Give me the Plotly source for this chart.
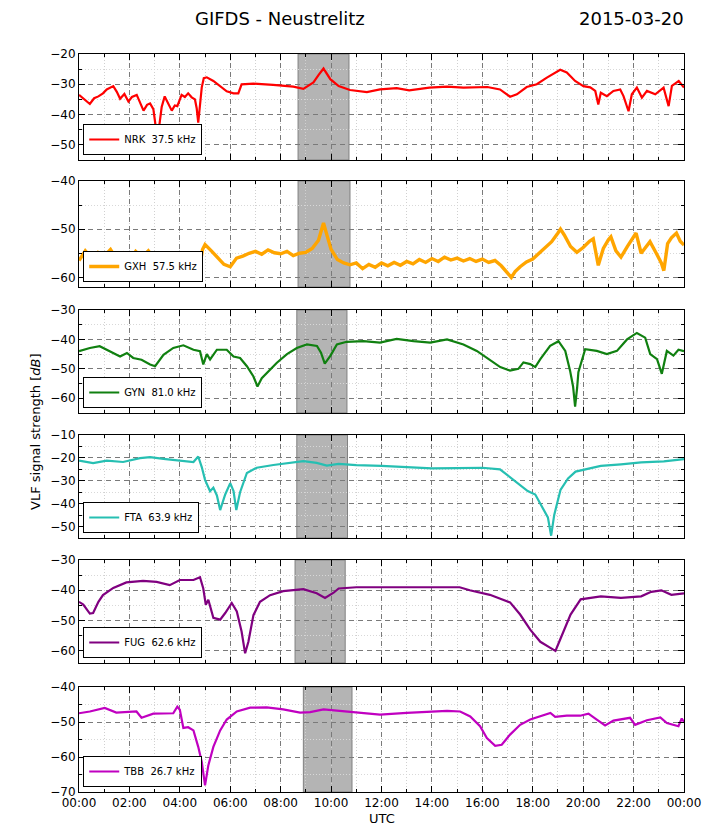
import plotly.graph_objects as go

# ---------------- data (hours UTC, dB) ----------------
nrk_t = [0, 0.2, 0.43, 0.6, 0.77, 0.95, 1.1, 1.36, 1.5, 1.63, 1.8, 1.96, 2.1, 2.29, 2.45, 2.56, 2.7, 2.82, 2.95,
         3.03, 3.1, 3.18, 3.28, 3.4, 3.55, 3.68, 3.8, 3.9, 4.07, 4.2, 4.33, 4.47, 4.6, 4.67, 4.73, 4.8, 4.87, 4.95,
         5.07, 5.33, 5.6, 5.86, 6.13, 6.32, 6.45, 6.92, 7.7, 8.5, 8.9, 9.3, 9.5, 9.7, 9.97, 10.3, 10.75, 11.42,
         11.94, 12.6, 13.1, 13.9, 14.6, 15.25, 16.2, 16.7, 17.1, 17.37, 17.76, 18.16, 18.56, 19.09, 19.35, 19.68,
         20.01, 20.28, 20.48, 20.6, 20.7, 20.94, 21.2, 21.47, 21.6, 21.8, 21.93, 22.13, 22.33, 22.53, 22.86, 23.19,
         23.39, 23.52, 23.79, 24]
nrk_v = [-33.5, -35.0, -36.5, -34.6, -34.0, -33.0, -31.7, -30.6, -32.5, -34.8, -33.2, -35.7, -34.2, -33.5, -36.4,
         -38.7, -36.8, -36.3, -38.2, -44.0, -47.5, -44.0, -37.5, -34.0, -36.5, -38.7, -37.0, -37.2, -33.5, -34.2,
         -33.0, -34.3, -35.0, -38.0, -42.7, -37.0, -31.0, -28.0, -27.7, -28.9, -30.6, -32.3, -33.0, -33.0, -30.0,
         -29.8, -30.2, -30.8, -31.5, -29.4, -27.0, -24.8, -28.3, -30.6, -31.9, -32.6, -31.7, -31.3, -32.0, -31.1,
         -30.8, -31.1, -30.9, -31.7, -34.1, -33.3, -30.9, -30.0, -27.8, -25.2, -26.1, -28.9, -30.6, -31.0, -32.2,
         -36.7, -32.8, -33.9, -32.2, -31.7, -33.9, -38.9, -33.3, -31.1, -34.4, -32.2, -33.3, -31.1, -37.2, -30.5,
         -28.9, -31.1]

gxh_t = [0.0, 0.25, 0.5, 0.75, 1.0, 1.25, 1.5, 1.75, 2.0, 2.25, 2.5, 2.75, 3.0, 3.25, 3.5, 3.75, 4.0, 4.25, 4.5,
         4.75, 4.9, 5.0, 5.25, 5.5, 5.75, 6.0, 6.25, 6.5, 6.75, 7.0, 7.25, 7.5, 7.75, 8.0, 8.25, 8.5, 8.75, 9.0,
         9.25, 9.5, 9.7, 9.85, 10.0, 10.25, 10.5, 10.75, 11.0, 11.25, 11.5, 11.75, 12.0, 12.25, 12.5, 12.75, 13.0,
         13.25, 13.5, 13.75, 14.0, 14.25, 14.5, 14.75, 15.0, 15.25, 15.5, 15.75, 16.0, 16.25, 16.5, 16.75, 17.0,
         17.15, 17.3, 17.5, 17.75, 18.0, 18.25, 18.5, 18.75, 19.0, 19.1, 19.25, 19.5, 19.75, 20.0, 20.25, 20.4,
         20.6, 20.8, 21.0, 21.1, 21.3, 21.5, 21.75, 22.0, 22.1, 22.3, 22.5, 22.65, 22.9, 23.1, 23.2, 23.35, 23.5,
         23.7, 23.85, 24.0]
gxh_v = [-56.5, -54.5, -56.0, -54.8, -55.6, -54.2, -56.3, -55.0, -56.8, -54.6, -55.8, -54.5, -56.2, -55.1, -56.8,
         -55.6, -57.0, -56.0, -57.4, -59.0, -54.2, -53.2, -54.5, -56.0, -57.3, -57.8, -56.0, -55.6, -55.0, -54.6,
         -55.2, -54.3, -54.9, -55.1, -54.6, -55.5, -55.0, -54.8, -54.0, -52.3, -48.7, -51.5, -54.2, -56.3, -57.0,
         -57.4, -57.0, -58.2, -57.3, -57.9, -57.0, -57.6, -56.9, -57.5, -56.7, -57.2, -56.3, -56.9, -56.1, -56.7,
         -55.8, -56.4, -56.0, -56.6, -56.1, -56.7, -56.2, -56.9, -56.5, -57.6, -59.0, -60.0, -58.8, -57.8, -56.8,
         -56.2, -55.0, -53.9, -52.6, -50.8, -50.0, -51.2, -53.6, -54.8, -53.8, -52.5, -52.0, -57.5, -54.0, -52.2,
         -51.6, -54.5, -55.8, -53.6, -51.5, -50.8, -55.0, -53.5, -52.6, -55.0, -57.0, -58.6, -53.0, -51.8, -50.8,
         -52.5, -53.3]

gyn_t = [0, 0.43, 0.82, 1.2, 1.63, 1.9, 2.15, 2.48, 2.82, 3.02, 3.35, 3.74, 4.14, 4.54, 4.8, 4.93, 5.07, 5.2,
         5.47, 5.86, 6.13, 6.39, 6.66, 6.92, 7.08, 7.25, 7.58, 7.85, 8.25, 8.64, 9.04, 9.44, 9.6, 9.75, 9.97,
         10.23, 10.62, 11.28, 11.94, 12.6, 13.27, 13.93, 14.6, 15.25, 15.78, 16.31, 16.71, 17.1, 17.43, 17.63,
         17.9, 18.1, 18.3, 18.69, 19.02, 19.29, 19.48, 19.6, 19.68, 19.76, 19.81, 20.08, 20.54, 20.94, 21.34,
         21.74, 22.13, 22.46, 22.66, 22.93, 23.12, 23.32, 23.58, 23.78, 24]
gyn_v = [-44.0, -42.9, -42.3, -44.0, -45.8, -44.6, -46.3, -46.9, -48.5, -49.1, -45.2, -42.9, -42.0, -43.5, -44.0,
         -48.5, -45.0, -46.8, -43.5, -43.5, -45.8, -46.3, -49.1, -52.6, -56.0, -53.2, -50.2, -47.9, -45.0, -42.9,
         -41.7, -42.2, -44.5, -48.2, -45.6, -41.7, -40.8, -40.6, -41.1, -39.8, -40.6, -41.1, -40.0, -41.7, -43.9,
         -47.2, -49.4, -50.6, -50.0, -47.8, -48.4, -49.4, -46.7, -42.2, -40.6, -43.9, -50.6, -56.0, -62.8, -56.5,
         -51.1, -43.3, -43.9, -45.0, -43.9, -40.0, -37.8, -39.4, -45.0, -46.7, -51.7, -43.9, -45.5, -43.5, -44.0]

fta_t = [0, 0.56, 1.1, 1.75, 2.42, 2.82, 3.35, 4.0, 4.54, 4.73, 4.87, 5.0, 5.2, 5.33, 5.47, 5.6, 5.8, 6.0,
         6.13, 6.24, 6.39, 6.66, 7.05, 7.71, 8.37, 8.9, 9.43, 9.83, 10.3, 11.0, 12.0, 13.0, 14.0, 15.0, 16.0,
         16.7, 17.0, 17.5, 17.8, 18.1, 18.3, 18.5, 18.6, 18.73, 18.85, 19.1, 19.4, 19.7, 20.2, 20.7, 21.5, 22.3,
         23.2, 24.0]
fta_v = [-21.2, -22.3, -21.2, -21.8, -20.1, -19.7, -20.4, -21.2, -21.8, -19.4, -24.0, -29.6, -34.6, -33.0, -36.4,
         -42.8, -36.0, -31.0, -34.5, -42.8, -35.0, -26.6, -24.3, -23.1, -22.1, -21.4, -22.2, -23.4, -22.6, -23.2,
         -23.5, -24.2, -24.6, -24.5, -24.3, -25.0, -27.5, -32.0, -34.5, -36.0, -40.0, -44.0, -46.0, -54.0, -45.0,
         -34.0, -29.0, -26.0, -24.6, -23.5, -22.8, -22.0, -21.5, -20.5]

fug_t = [0, 0.17, 0.43, 0.56, 0.77, 0.95, 1.36, 1.88, 2.54, 3.08, 3.6, 4.0, 4.54, 4.8, 4.93, 5.03, 5.13, 5.33,
         5.6, 5.8, 6.06, 6.26, 6.45, 6.59, 6.72, 6.92, 7.18, 7.58, 8.1, 8.9, 9.43, 9.76, 10.1, 10.3, 11.0, 12.0,
         13.0, 14.0, 15.1, 15.5, 16.3, 17.1, 17.5, 17.9, 18.3, 18.7, 18.9, 19.1, 19.5, 19.9, 20.7, 21.5, 22.3,
         22.7, 23.1, 23.5, 24.0]
fug_v = [-43.8, -44.7, -47.7, -47.5, -43.8, -41.6, -39.2, -37.4, -36.9, -37.2, -38.3, -36.6, -36.6, -35.7, -39.4,
         -44.8, -43.1, -49.1, -49.7, -47.5, -44.2, -47.0, -53.6, -60.8, -57.0, -48.2, -43.8, -41.6, -40.3, -39.6,
         -41.0, -42.5, -40.8, -39.4, -39.0, -39.0, -38.8, -39.0, -39.0, -40.0, -41.5, -44.0, -48.0, -53.0, -57.0,
         -59.0, -60.0, -56.0, -48.0, -43.0, -42.0, -42.5, -42.0, -40.5, -40.0, -41.5, -41.0]

tbb_t = [0, 0.43, 1.02, 1.48, 2.28, 2.48, 2.95, 3.48, 3.74, 3.9, 4.0, 4.14, 4.33, 4.54, 4.73, 4.87, 5.0, 5.13,
         5.33, 5.6, 5.86, 6.26, 6.79, 7.45, 8.1, 8.77, 9.17, 9.7, 10.25, 11.94, 13.0, 14.06, 14.6, 15.12, 15.52,
         15.91, 16.18, 16.51, 16.77, 17.1, 17.5, 17.9, 18.3, 18.7, 18.89, 19.35, 19.88, 20.21, 20.54, 20.87,
         21.2, 21.53, 21.86, 22.06, 22.53, 23.06, 23.32, 23.78, 23.91, 24.0]
tbb_v = [-47.5, -47.0, -46.0, -47.3, -47.0, -48.8, -47.6, -47.5, -47.5, -45.6, -46.5, -51.7, -51.5, -52.4, -57.1,
         -61.4, -68.1, -62.4, -57.1, -52.4, -49.3, -47.0, -45.9, -45.8, -46.4, -47.3, -47.2, -46.4, -46.8, -47.9,
         -47.4, -47.1, -46.8, -47.0, -48.4, -51.2, -54.6, -56.8, -56.5, -53.6, -50.8, -49.3, -48.4, -47.4, -48.5,
         -48.2, -48.2, -47.6, -49.3, -51.0, -49.6, -49.1, -48.8, -50.8, -49.5, -48.7, -50.3, -51.2, -49.0, -50.0]

names = ["NRK\u00a0\u00a037.5 kHz", "GXH\u00a0\u00a057.5 kHz", "GYN\u00a0\u00a081.0 kHz",
         "FTA\u00a0\u00a063.9 kHz", "FUG\u00a0\u00a062.6 kHz", "TBB\u00a0\u00a026.7 kHz"]
series_t = [nrk_t, gxh_t, gyn_t, fta_t, fug_t, tbb_t]
series_v = [nrk_v, gxh_v, gyn_v, fta_v, fug_v, tbb_v]
colors = ["#ff0000", "#ffa500", "#108010", "#26bfb2", "#800080", "#c000c0"]
widths = [2.2, 3.4, 2.2, 2.2, 2.2, 2.2]
y_ranges = [[-55, -20], [-62, -40], [-65, -30], [-55, -10], [-64, -30], [-70, -40]]
shade = [[8.69, 10.71], [8.69, 10.75], [8.64, 10.63], [8.64, 10.65], [8.57, 10.56], [8.9, 10.83]]
x_ticks = list(range(0, 25, 2))
x_ticktext = ["%02d:00" % (h % 24) for h in x_ticks]

# ---------------- layout geometry (pixels) ----------------
W, H = 726, 833
L, R, T, B = 79, 42, 54, 41
ph = H - T - B
panel_px = [(54, 160), (181, 287), (310, 413), (435, 538), (560, 663), (687, 792)]

def py(y):
    return (H - B - y) / ph

fig = go.Figure()
layout = dict(
    width=W, height=H, margin=dict(l=L, r=R, t=T, b=B),
    paper_bgcolor="white", plot_bgcolor="white",
    font=dict(family="DejaVu Sans", size=12, color="black"),
    shapes=[], annotations=[],
)

for i in range(6):
    k = "" if i == 0 else str(i + 1)
    top, bot = panel_px[i]
    fig.add_trace(go.Scatter(
        x=series_t[i], y=series_v[i], mode="lines", name=names[i],
        line=dict(color=colors[i], width=widths[i]),
        xaxis="x" + k, yaxis="y" + k, legend="legend" + k, showlegend=True))
    layout["xaxis" + k] = dict(
        domain=[0, 1], anchor="y" + k, range=[0, 24], tickvals=x_ticks, ticktext=x_ticktext,
        showticklabels=(i == 5), ticks="inside", ticklen=6, tickcolor="black",
        showline=True, linecolor="black", linewidth=1, mirror="ticks",
        showgrid=True, gridcolor="#7a7a7a", griddash="5px,4px", gridwidth=1, zeroline=False,
        minor=dict(dtick=1, tick0=0, ticks="inside", ticklen=3, tickcolor="black",
                   showgrid=True, gridcolor="#d0d0d0", griddash="1px,2px"),
        tickfont=dict(size=12))
    layout["yaxis" + k] = dict(
        domain=[py(bot), py(top)], anchor="x" + k, range=y_ranges[i], dtick=10, tick0=0,
        ticks="inside", ticklen=6, tickcolor="black",
        showline=True, linecolor="black", linewidth=1, mirror="ticks",
        showgrid=True, gridcolor="#7a7a7a", griddash="5px,4px", gridwidth=1, zeroline=False,
        minor=dict(dtick=5, tick0=0, ticks="inside", ticklen=3, tickcolor="black",
                   showgrid=True, gridcolor="#d8d8d8", griddash="1px,2px"),
        tickfont=dict(size=12))
    layout["legend" + k] = dict(
        x=0.007, y=py(bot - 5), xanchor="left", yanchor="bottom", xref="paper", yref="paper",
        bgcolor="white", bordercolor="black", borderwidth=1,
        font=dict(size=10, family="DejaVu Sans"), itemwidth=30,
        tracegroupgap=0)
    layout["shapes"].append(dict(
        type="rect", xref="x" + k, yref="y" + k + " domain", x0=shade[i][0], x1=shade[i][1],
        y0=0, y1=1, fillcolor="#b4b4b4", line=dict(color="#808080", width=1), layer="below"))

layout["annotations"] += [
    dict(text="GIFDS - Neustrelitz", xref="paper", yref="paper", x=(280 - L) / (W - L - R), y=py(19),
         xanchor="center", yanchor="middle", showarrow=False, font=dict(size=18)),
    dict(text="2015-03-20", xref="paper", yref="paper", x=(686 - L) / (W - L - R), y=py(19),
         xanchor="right", yanchor="middle", showarrow=False, font=dict(size=18)),
    dict(text="VLF signal strength [<i>dB</i>]", xref="paper", yref="paper", x=(35 - L) / (W - L - R),
         y=py(432), xanchor="center", yanchor="middle", textangle=-90, showarrow=False, font=dict(size=13)),
    dict(text="UTC", xref="paper", yref="paper", x=0.5, y=py(818),
         xanchor="center", yanchor="middle", showarrow=False, font=dict(size=13)),
]

fig.update_layout(**layout)
fig.write_html("out.html")
